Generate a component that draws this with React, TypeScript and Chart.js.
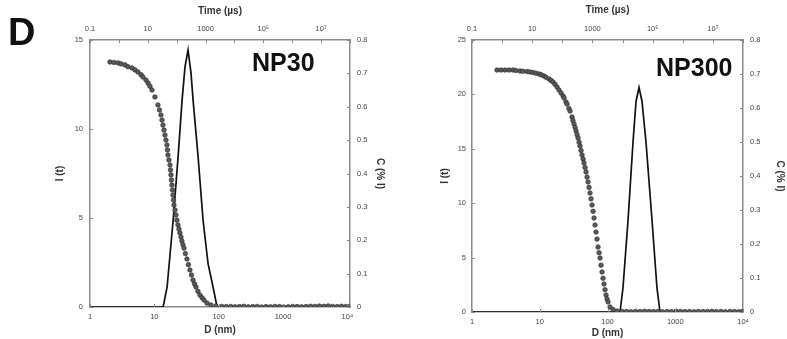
import React, { useEffect, useRef } from "react";
import { Chart, registerables } from "chart.js";

Chart.register(...registerables);

const FONT = "'Liberation Sans', Arial, sans-serif";

// Shared axis ticks
const timeTicks = [0.1, 1, 10, 100, 1000, 1e4, 1e5, 1e6, 1e7, 1e8];
const timeLabels = ["0.1", "", "10", "", "1000", "", "10⁵", "", "10⁷", ""];
const sizeTicks = [1, 10, 100, 1000, 10000];
const sizeLabels = ["1", "10", "100", "1000", "10⁴"];

// NP30 – correlation function vs time (µs)
const np30Time = [
  0.49, 0.676, 0.93, 1.18, 1.63, 2.07, 2.84, 3.61, 4.58, 5.82, 6.82, 8.67, 10.2, 11.9, 14.0, 17.7,
  22.5, 25.4, 28.6, 31, 33.6, 36.5, 39.4, 42.7, 46.1, 48, 50.0, 54, 58.6, 61, 63.5, 66, 68.7, 71.5,
  74.5, 77.5, 80.7, 87.5, 94.6, 102, 111, 120, 130, 141, 152, 165, 179, 200, 227, 255, 288, 325,
  366, 415, 466, 545, 640, 760, 881, 1117, 1540, 2290, 3690, 5200, 7400, 10500, 15000, 21000, 30000,
  43000, 61000, 87000, 1.24e5, 1.76e5, 2.5e5, 3.6e5, 5.1e5, 7.3e5, 1.04e6, 1.48e6, 2.1e6, 3e6,
  4.3e6, 6.1e6, 8.7e6, 1.24e7, 1.76e7, 2.5e7, 3.6e7, 5.1e7, 7.3e7, 9.6e7,
];
const np30Corr = [
  13.76, 13.74, 13.71, 13.66, 13.6, 13.5, 13.43, 13.32, 13.2, 13.05, 12.92, 12.75, 12.58, 12.4,
  12.19, 11.8, 11.35, 11.07, 10.79, 10.5, 10.22, 9.94, 9.66, 9.38, 9.1, 8.82, 8.54, 8.26, 7.98, 7.7,
  7.42, 7.13, 6.85, 6.57, 6.29, 6.01, 5.73, 5.45, 5.17, 4.88, 4.61, 4.38, 4.16, 3.93, 3.71, 3.5,
  3.31, 3.0, 2.7, 2.38, 2.08, 1.8, 1.52, 1.3, 1.12, 0.88, 0.67, 0.52, 0.39, 0.22, 0.11, 0.06, 0.03,
  0.02, 0.03, 0.01, 0.02, 0.04, 0.01, 0.02, 0.03, 0.0, 0.02, 0.01, 0.03, 0.02, 0.0, 0.01, 0.03,
  0.02, 0.01, 0.02, 0.04, 0.03, 0.05, 0.04, 0.06, 0.03, 0.02, 0.04, 0.03, 0.02,
];
// NP30 – size distribution vs D (nm)
const np30Size = [1, 13.7, 15.8, 19.6, 23.4, 27.0, 30.0, 33.4, 37.2, 40.0, 47.9, 57.2, 68.4, 81.8, 94.4, 11000];
const np30Dist = [0, 0, 0.06, 0.26, 0.45, 0.62, 0.72, 0.77, 0.7, 0.62, 0.45, 0.26, 0.13, 0.06, 0, 0];

// NP300 – correlation function vs time (µs)
const np300Time = [
  0.678, 0.92, 1.25, 1.7, 2.3, 2.87, 3.93, 4.9, 6.72, 8.4, 10.6, 13.3, 16.8, 20.0, 24.7, 28.9, 36.1,
  42.1, 49.1, 57.1, 66.7, 77.7, 90.6, 105.9, 114, 132, 143, 166, 180, 210, 225, 245, 265, 285, 308,
  333, 360, 387, 418, 451, 488, 526, 568, 612, 662, 714, 772, 832, 900, 970, 1048, 1130, 1220, 1318,
  1420, 1535, 1660, 1788, 1930, 2084, 2250, 2428, 2620, 2830, 3050, 3298, 3843, 4834, 6563, 9620,
  13500, 19000, 27000, 38000, 54000, 76000, 1.07e5, 1.5e5, 2.1e5, 3e5, 4.2e5, 6e5, 8.4e5, 1.18e6,
  1.66e6, 2.35e6, 3.3e6, 4.7e6, 6.6e6, 9.3e6, 1.3e7, 1.85e7, 2.6e7, 3.7e7, 5.2e7, 7.3e7, 9.5e7,
];
const np300Corr = [
  22.24, 22.24, 22.24, 22.24, 22.24, 22.2, 22.15, 22.13, 22.1, 22.06, 22.01, 21.95, 21.88, 21.8,
  21.69, 21.57, 21.42, 21.28, 21.14, 20.92, 20.68, 20.4, 20.13, 19.85, 19.67, 19.3, 19.12, 18.7,
  18.47, 17.92, 17.6, 17.28, 16.96, 16.64, 16.3, 15.99, 15.6, 15.26, 14.85, 14.43, 14.06, 13.69,
  13.28, 12.87, 12.4, 11.95, 11.45, 10.94, 10.4, 9.83, 9.25, 8.64, 8.0, 7.35, 6.7, 5.97, 5.45, 4.96,
  4.3, 3.68, 3.1, 2.57, 2.05, 1.56, 1.2, 0.92, 0.46, 0.23, 0.09, 0.05, 0.04, 0.02, 0.05, 0.03, 0.06,
  0.04, 0.03, 0.05, 0.02, 0.04, 0.03, 0.06, 0.05, 0.03, 0.04, 0.02, 0.05, 0.03, 0.04, 0.06, 0.03,
  0.05, 0.02, 0.04, 0.03, 0.02, 0.03,
];
// NP300 – size distribution vs D (nm)
const np300Size = [1, 153, 169, 201, 238, 264, 292, 323, 370, 454, 538, 596, 10000];
const np300Dist = [0, 0, 0.07, 0.27, 0.5, 0.62, 0.66, 0.62, 0.5, 0.27, 0.07, 0, 0];

const innerTicks = {
  id: "innerTicks",
  afterDatasetsDraw(chart: any) {
    const { ctx, chartArea: a } = chart;
    ctx.save();
    ctx.strokeStyle = "#888";
    ctx.lineWidth = 1;
    for (const id of Object.keys(chart.scales)) {
      const s = chart.scales[id];
      for (const t of s.ticks) {
        const p = Math.round(s.getPixelForValue(t.value)) + 0.5;
        ctx.beginPath();
        if (s.position === "top") { ctx.moveTo(p, a.top); ctx.lineTo(p, a.top + 3); }
        else if (s.position === "bottom") { ctx.moveTo(p, a.bottom); ctx.lineTo(p, a.bottom - 3); }
        else if (s.position === "left") { ctx.moveTo(a.left, p); ctx.lineTo(a.left + 3, p); }
        else { ctx.moveTo(a.right, p); ctx.lineTo(a.right - 3, p); }
        ctx.stroke();
      }
    }
    ctx.restore();
  },
};

type Panel = {
  time: number[]; corr: number[]; size: number[]; dist: number[];
  yMax: number; sizeMax: number;
  leftW: number; rightW: number; topH: number; bottomH: number;
  yTitlePad: number; y2TitlePad: number; x2TitlePad: number; xTitlePad: number;
  yTickPad: number; xTickPad: number; x2TickPad: number;
};

function makeChart(canvas: HTMLCanvasElement, p: Panel) {
  const tickFont = { family: FONT, size: 7.5 };
  const titleFont = { family: FONT, size: 10, weight: "bold" as const };
  const border = { display: true, color: "#8a8a8a", width: 1.5 };
  const grid = { display: false, drawTicks: false, tickLength: 0 };
  return new Chart(canvas, {
    type: "scatter",
    data: {
      datasets: [
        {
          data: p.time.map((t, i) => ({ x: t, y: p.corr[i] })),
          xAxisID: "x2", yAxisID: "y",
          pointRadius: 2.3, backgroundColor: "#5a5a5a", borderColor: "#262626", borderWidth: 0.6,
          showLine: false,
        },
        {
          data: p.size.map((d, i) => ({ x: d, y: p.dist[i] })),
          xAxisID: "x", yAxisID: "y2",
          showLine: true, pointRadius: 0, borderColor: "#111", borderWidth: 1.7, tension: 0,
        },
      ],
    } as any,
    options: {
      animation: false, responsive: false, maintainAspectRatio: false, devicePixelRatio: 1,
      layout: { padding: 0 },
      plugins: { legend: { display: false }, tooltip: { enabled: false } },
      scales: {
        x: {
          type: "logarithmic", position: "bottom", min: 1, max: p.sizeMax,
          afterFit: (s: any) => { s.height = p.bottomH; },
          afterBuildTicks: (s: any) => { s.ticks = sizeTicks.map((v) => ({ value: v })); },
          grid, border,
          ticks: { autoSkip: false, maxRotation: 0, padding: p.xTickPad, font: tickFont, color: "#444",
            callback: (_v: any, i: number) => sizeLabels[i] },
          title: { display: true, text: "D (nm)", font: titleFont, color: "#333", padding: { top: 0, bottom: p.xTitlePad } },
        },
        x2: {
          type: "logarithmic", position: "top", min: 0.1, max: 1e8,
          afterFit: (s: any) => { s.height = p.topH; },
          afterBuildTicks: (s: any) => { s.ticks = timeTicks.map((v) => ({ value: v })); },
          grid, border,
          ticks: { autoSkip: false, maxRotation: 0, padding: p.x2TickPad, font: tickFont, color: "#444",
            callback: (_v: any, i: number) => timeLabels[i] },
          title: { display: true, text: "Time (µs)", font: titleFont, color: "#333", padding: { top: p.x2TitlePad, bottom: 0 } },
        },
        y: {
          type: "linear", position: "left", min: 0, max: p.yMax,
          afterFit: (s: any) => { s.width = p.leftW; },
          grid, border,
          ticks: { stepSize: 5, padding: p.yTickPad, font: tickFont, color: "#444" },
          title: { display: true, text: "I (t)", font: titleFont, color: "#333", padding: { top: p.yTitlePad, bottom: 0 } },
        },
        y2: {
          type: "linear", position: "right", min: 0, max: 0.8,
          afterFit: (s: any) => { s.width = p.rightW; },
          grid, border,
          ticks: { stepSize: 0.1, padding: 7, font: tickFont, color: "#444",
            callback: (v: any) => (Math.abs(v) < 1e-9 ? "0" : Number(v).toFixed(1)) },
          title: { display: true, text: "C (% I)", font: titleFont, color: "#333", padding: { top: p.y2TitlePad, bottom: 0 } },
        },
      },
    } as any,
    plugins: [innerTicks],
  });
}

const leftPanel: Panel = {
  time: np30Time, corr: np30Corr, size: np30Size, dist: np30Dist,
  yMax: 15, sizeMax: 11000,
  leftW: 90, rightW: 43, topH: 40, bottomH: 32,
  yTitlePad: 54, y2TitlePad: 7, x2TitlePad: 5, xTitlePad: 3,
  yTickPad: 7, xTickPad: 5, x2TickPad: 7,
};
const rightPanel: Panel = {
  time: np300Time, corr: np300Corr, size: np300Size, dist: np300Dist,
  yMax: 25, sizeMax: 10000,
  leftW: 79, rightW: 44, topH: 40, bottomH: 27,
  yTitlePad: 46, y2TitlePad: 1, x2TitlePad: 4, xTitlePad: 0,
  yTickPad: 6, xTickPad: 5, x2TickPad: 7,
};

function PanelChart({ panel, left, width }: { panel: Panel; left: number; width: number }) {
  const ref = useRef<HTMLCanvasElement>(null);
  useEffect(() => {
    if (!ref.current) return;
    const c = makeChart(ref.current, panel);
    return () => c.destroy();
  }, [panel]);
  return (
    <canvas
      ref={ref}
      width={width}
      height={339}
      style={{ position: "absolute", left, top: 0, width, height: 339 }}
    />
  );
}

const labelStyle: React.CSSProperties = {
  position: "absolute", fontFamily: FONT, fontWeight: "bold", lineHeight: 1, color: "#111", margin: 0,
};

export default function App() {
  return (
    <div style={{ position: "absolute", left: 0, top: 0, width: 787, height: 339, background: "#fff", overflow: "hidden" }}>
      <PanelChart panel={leftPanel} left={0} width={393} />
      <PanelChart panel={rightPanel} left={393} width={394} />
      <div style={{ ...labelStyle, left: 8, top: 13, fontSize: 38 }}>D</div>
      <div style={{ ...labelStyle, left: 252, top: 50, fontSize: 25 }}>NP30</div>
      <div style={{ ...labelStyle, left: 656, top: 55, fontSize: 25 }}>NP300</div>
    </div>
  );
}
